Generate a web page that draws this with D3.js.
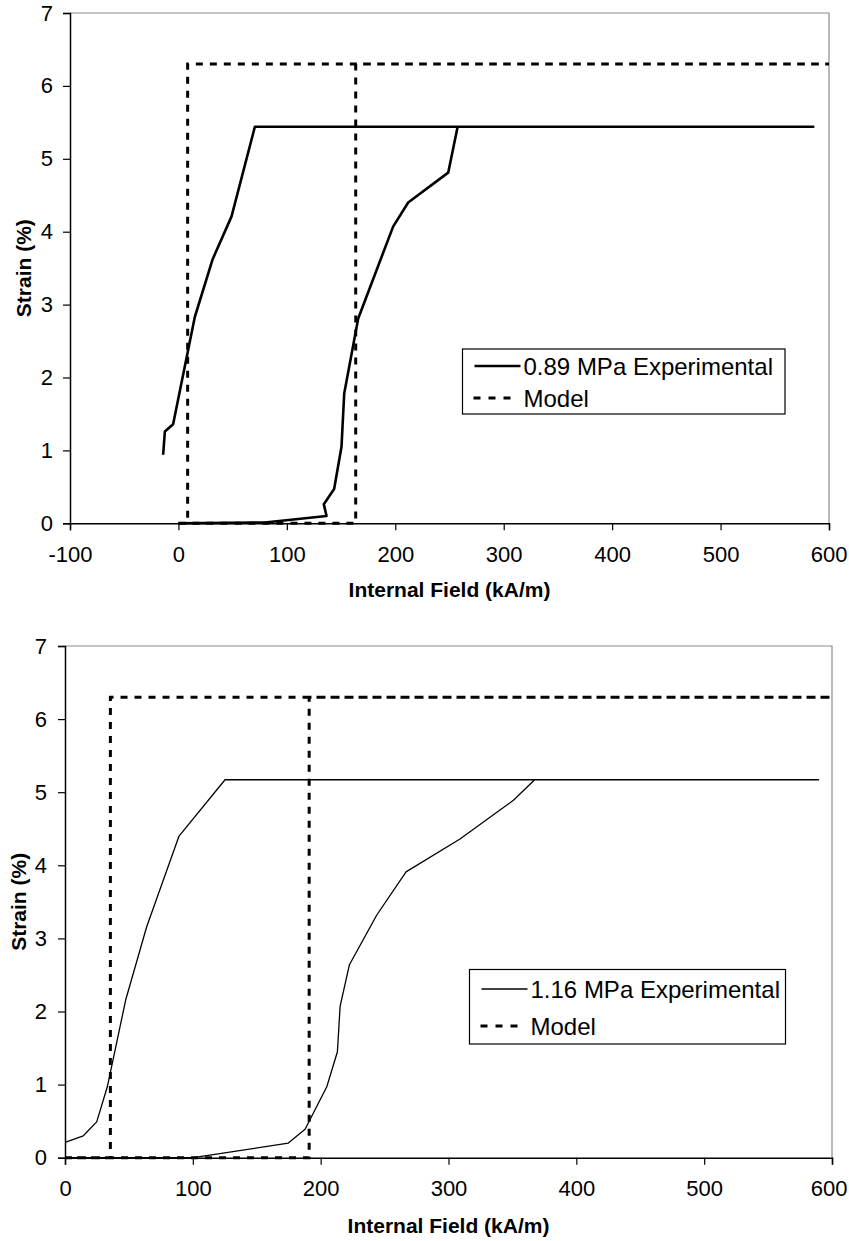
<!DOCTYPE html>
<html>
<head>
<meta charset="utf-8">
<script src="https://cdn.jsdelivr.net/npm/d3@7"></script>
<style>
  body { margin: 0; background: #fff; }
  svg { display: block; font-family: Arial, "Liberation Sans", sans-serif; }
</style>
</head>
<body>
<div id="chart"></div>
<script>
// ticks
const strainTicks = [0, 1, 2, 3, 4, 5, 6, 7];
const fieldTicksTop = [-100, 0, 100, 200, 300, 400, 500, 600];
const fieldTicksBottom = [0, 100, 200, 300, 400, 500, 600];

// 0.89 MPa: [internal field kA/m, strain %]
const exp089 = [
    [0, 0], [79.7, 0.01], [136.6, 0.10], [134.1, 0.26], [143.6, 0.47], [150.4, 1.05],
    [152.9, 1.78], [165.8, 2.81], [198, 4.07], [211.9, 4.40], [248.8, 4.81], [257.5, 5.44],
    [585.5, 5.44], [70.5, 5.44], [49, 4.21], [31.5, 3.62], [15.1, 2.83], [-4.9, 1.36],
    [-12.5, 1.26], [-14.1, 0.94]
];
const model089 = [[0, 0], [163.5, 0], [163.5, 6.3], [600, 6.3], [8.5, 6.3], [8.5, 0], [0, 0]];

// 1.16 MPa
const exp116 = [
    [0, 0], [100.4, 0], [174.7, 0.20], [187.8, 0.39], [204.8, 0.97], [213.1, 1.45],
    [215.2, 2.07], [222.5, 2.64], [243.9, 3.32], [266.8, 3.91], [309, 4.36], [350.8, 4.89],
    [367.4, 5.17], [589.5, 5.17], [125.2, 5.17], [89.2, 4.40], [63.9, 3.16], [47.5, 2.16],
    [33.1, 0.97], [24.8, 0.49], [14.3, 0.30], [0, 0.21]
];
const model116 = [[0, 0], [191, 0], [191, 6.3], [600, 6.3], [35.5, 6.3], [35.5, 0], [0, 0]];

const svg = d3.select("#chart").append("svg").attr("width", 849).attr("height", 1241);

// plain hyphen for negatives, like the original
const fmt = d => String(d);

function drawChart(opt) {
    const x = d3.scaleLinear().domain(opt.xDomain).range([opt.left, opt.right]);
    const y = d3.scaleLinear().domain([0, 7]).range([opt.bottom, opt.top]);
    const g = svg.append("g");

    // frame (top/right in grey)
    g.append("path")
        .attr("d", `M${opt.left},${opt.top}H${opt.right}V${opt.bottom}`)
        .attr("fill", "none").attr("stroke", "#8c8c8c").attr("stroke-width", 1.2);

    const xAxis = g.append("g").attr("transform", `translate(0,${opt.bottom})`)
        .call(d3.axisBottom(x).tickValues(opt.xTicks).tickSize(7).tickPadding(16).tickFormat(fmt));
    const yAxis = g.append("g").attr("transform", `translate(${opt.left},0)`)
        .call(d3.axisLeft(y).tickValues(strainTicks).tickSize(7).tickPadding(opt.yPad).tickFormat(fmt));
    [xAxis, yAxis].forEach(a => {
        a.select(".domain").attr("stroke", "#000").attr("stroke-width", 1.5);
        a.selectAll(".tick line").attr("stroke", "#000").attr("stroke-width", 1.2);
        a.selectAll(".tick text").attr("font-size", 22).attr("fill", "#000")
            .attr("font-family", "Arial, 'Liberation Sans', sans-serif");
    });
    // keep the last label inside the page
    xAxis.selectAll(".tick text").filter(d => d === 600)
        .attr("text-anchor", "end").attr("x", 849 - opt.right - 2);

    g.append("text")
        .attr("x", (opt.left + opt.right) / 2).attr("y", opt.xTitleY)
        .attr("text-anchor", "middle").attr("font-size", 21).attr("font-weight", "bold")
        .text("Internal Field (kA/m)");
    g.append("text")
        .attr("transform", `translate(${opt.yTitleX},${(opt.top + opt.bottom) / 2}) rotate(-90)`)
        .attr("text-anchor", "middle").attr("dominant-baseline", "central")
        .attr("font-size", 21).attr("font-weight", "bold")
        .text("Strain (%)");

    const line = d3.line().x(d => x(d[0])).y(d => y(d[1]));

    g.append("path").datum(opt.model).attr("d", line)
        .attr("fill", "none").attr("stroke", "#000").attr("stroke-width", 3)
        .attr("stroke-dasharray", "7,7");
    g.append("path").datum(opt.exp).attr("d", line)
        .attr("fill", "none").attr("stroke", "#000").attr("stroke-width", opt.expWidth)
        .attr("stroke-linejoin", "round");

    // legend
    const L = opt.legend;
    g.append("rect").attr("x", L.x).attr("y", L.y).attr("width", L.w).attr("height", L.h)
        .attr("fill", "#fff").attr("stroke", "#000").attr("stroke-width", 1.2);
    g.append("line").attr("x1", L.x + 12).attr("x2", L.x + 58).attr("y1", L.row1 - 9).attr("y2", L.row1 - 9)
        .attr("stroke", "#000").attr("stroke-width", opt.expWidth);
    g.append("line").attr("x1", L.x + 11).attr("x2", L.x + 55).attr("y1", L.row2 - 9).attr("y2", L.row2 - 9)
        .attr("stroke", "#000").attr("stroke-width", 3).attr("stroke-dasharray", "7,8");
    g.append("text").attr("x", L.x + 61).attr("y", L.row1).attr("font-size", 24).text(opt.label);
    g.append("text").attr("x", L.x + 61).attr("y", L.row2).attr("font-size", 24).text("Model");
}

drawChart({
    xDomain: [-100, 600], xTicks: fieldTicksTop,
    left: 70, right: 829, top: 13, bottom: 523.3,
    yPad: 10, xTitleY: 597, yTitleX: 23,
    exp: exp089, model: model089, expWidth: 2.6,
    label: "0.89 MPa Experimental",
    legend: { x: 462.5, y: 349, w: 322.5, h: 65, row1: 375, row2: 407 }
});

drawChart({
    xDomain: [0, 600], xTicks: fieldTicksBottom,
    left: 65, right: 832, top: 646, bottom: 1157.7,
    yPad: 11, xTitleY: 1233, yTitleX: 18,
    exp: exp116, model: model116, expWidth: 1.3,
    label: "1.16 MPa Experimental",
    legend: { x: 469.5, y: 969.5, w: 316, h: 74.5, row1: 998, row2: 1035 }
});
</script>
</body>
</html>
